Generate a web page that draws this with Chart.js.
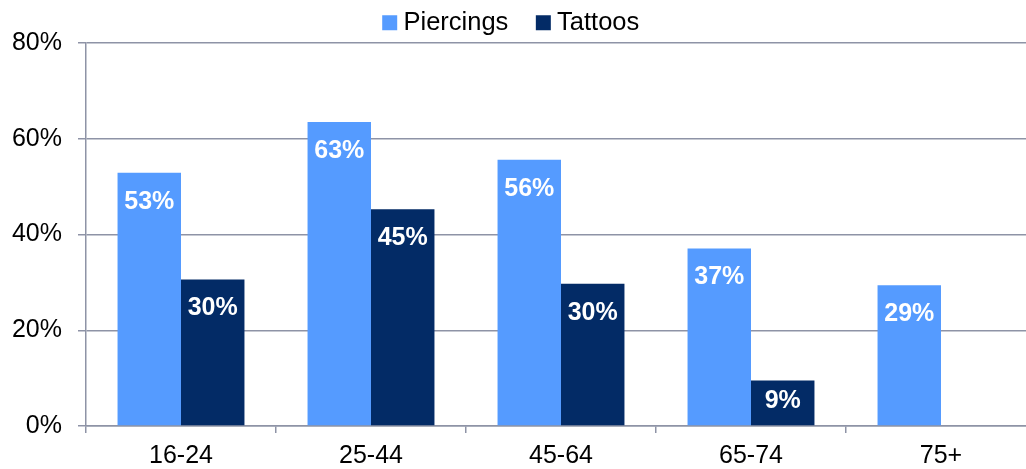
<!DOCTYPE html>
<html>
<head>
<meta charset="utf-8">
<script src="https://cdn.jsdelivr.net/npm/chart.js@4.4.1/dist/chart.umd.min.js"></script>
<style>
  html, body { margin: 0; padding: 0; overflow: hidden; background: #fff; }
  #wrap { position: relative; width: 1040px; height: 469px; }
</style>
</head>
<body>
<div id="wrap"><canvas id="c"></canvas></div>
<script>
const categories = ['16-24', '25-44', '45-64', '65-74', '75+'];
const piercings = [52.9, 63.5, 55.6, 37.1, 29.4];
const tattoos = [30.6, 45.3, 29.7, 9.5, null];
const piercingLabels = ['53%', '63%', '56%', '37%', '29%'];
const tattooLabels = ['30%', '45%', '30%', '9%', ''];
const yTicks = [0, 20, 40, 60, 80];

const FONT = "'Liberation Sans', Arial, sans-serif";
const GRID = '#8e93a6';
const LEGEND_PAD = 34;

const barLabels = {
  id: 'barLabels',
  afterDatasetsDraw(chart) {
    const ctx = chart.ctx;
    const texts = [piercingLabels, tattooLabels];
    ctx.save();
    ctx.fillStyle = '#ffffff';
    ctx.font = 'bold 25px ' + FONT;
    ctx.textAlign = 'center';
    ctx.textBaseline = 'middle';
    chart.data.datasets.forEach((ds, di) => {
      chart.getDatasetMeta(di).data.forEach((bar, i) => {
        const t = texts[di][i];
        if (!t || ds.data[i] == null) return;
        const y = Math.min(bar.y + 29, (bar.y + bar.base) / 2 - 2);
        ctx.fillText(t, bar.x, y);
      });
    });
    ctx.restore();
  }
};

const legendHeight = {
  id: 'legendHeight',
  beforeInit(chart) {
    const orig = chart.legend.fit;
    chart.legend.fit = function () {
      orig.bind(chart.legend)();
      this.height = 43;
    };
  },
  afterLayout(chart) {
    // keep the wide horizontal item spacing but pull the row up to the top
    chart.legend.top = 10 - LEGEND_PAD;
    chart.legend.left = -8;
  }
};

new Chart(document.getElementById('c'), {
  type: 'bar',
  data: {
    labels: categories,
    datasets: [
      { label: 'Piercings', data: piercings, backgroundColor: '#559bff', borderWidth: 0 },
      { label: 'Tattoos', data: tattoos, backgroundColor: '#032b66', borderWidth: 0 }
    ]
  },
  options: {
    responsive: true,
    maintainAspectRatio: false,
    animation: false,
    layout: { padding: { left: 0, right: 4, top: 0, bottom: 0 } },
    datasets: { bar: { categoryPercentage: 0.668, barPercentage: 1.0 } },
    plugins: {
      tooltip: { enabled: false },
      legend: {
        position: 'top',
        labels: {
          color: '#000',
          font: { family: FONT, size: 25.5 },
          usePointStyle: true,
          pointStyle: 'rect',
          boxWidth: 2,
          boxHeight: 15,
          padding: LEGEND_PAD
        }
      }
    },
    scales: {
      x: {
        afterFit(scale) { scale.height = 43; },
        grid: {
          offset: true,
          drawOnChartArea: false,
          drawTicks: true,
          tickLength: 7,
          color: GRID,
          lineWidth: 1.5
        },
        border: { display: true, color: GRID, width: 1.5 },
        ticks: {
          color: '#000',
          font: { family: FONT, size: 25 },
          padding: 8
        }
      },
      y: {
        min: 0,
        max: 80,
        afterFit(scale) { scale.width = 86; },
        afterBuildTicks(scale) { scale.ticks = yTicks.map(v => ({ value: v })); },
        grid: {
          drawOnChartArea: true,
          drawTicks: true,
          tickLength: 8,
          color: GRID,
          lineWidth: 1.5
        },
        border: { display: true, color: GRID, width: 1.5 },
        ticks: {
          color: '#000',
          font: { family: FONT, size: 25 },
          padding: 16,
          callback: v => v + '%'
        }
      }
    }
  },
  plugins: [barLabels, legendHeight]
});
</script>
</body>
</html>
